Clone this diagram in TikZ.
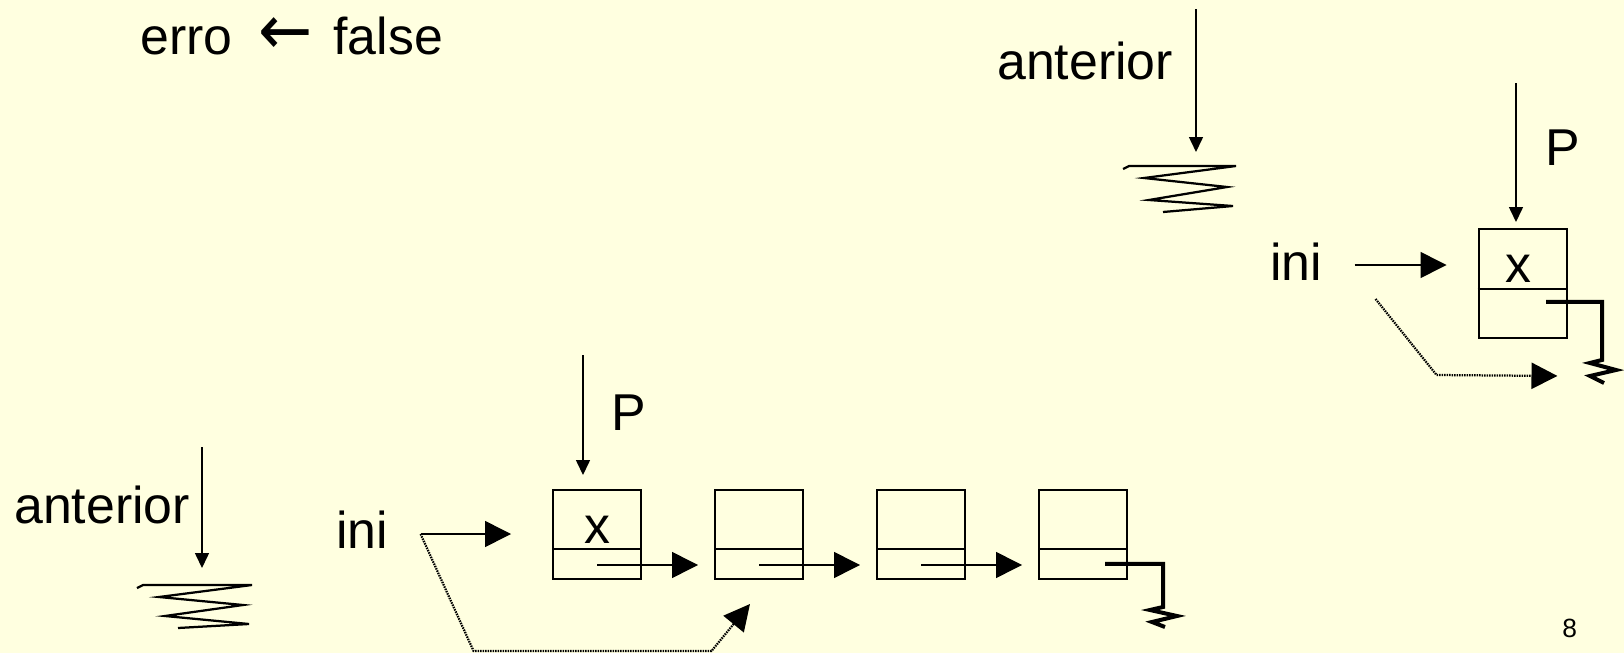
\documentclass[tikz,border=0pt]{standalone}
\usepackage{fontspec}
\setmainfont{Liberation Sans}
\newfontfamily\simbolos{DejaVu Sans}
\usepackage{tikz}
\usetikzlibrary{positioning, arrows.meta, calc}
\definecolor{fundo}{RGB}{255,255,224}

\begin{document}
\begin{tikzpicture}[x=0.02cm, y=-0.02cm,
        texto/.style={inner sep=0pt, anchor=base west, font=\fontsize{29.5}{34}\selectfont},
        celula/.style={draw, line width=0.04cm, minimum width=1.76cm, minimum height=1.78cm, inner sep=0pt},
        seta/.style={-{Triangle[length=0.52cm, width=0.52cm]}, line width=0.03cm},
        ponteiro/.style={-{Triangle[length=0.3cm, width=0.28cm]}, line width=0.03cm},
        pontilhado/.style={seta, line width=0.045cm, dash pattern=on 0.03cm off 0.02cm},
        nulo/.style={line width=0.08cm},
        terra/.style={line width=0.045cm}
    ]
        \useasboundingbox (0,0) rectangle (1624,653);
        \fill[fundo] (0,0) rectangle (1624,653);

        % Nós
        \node (erro) at (140,54) [texto] {erro\hspace{0.5em}\scalebox{1.25}[1.35]{\simbolos ←}\hspace{0.4em}false};
        \node (anteriorA) at (997,79) [texto] {anterior};
        \node (pA) at (1545,165) [texto] {P};
        \node (iniA) at (1270,280) [texto] {ini};
        \node (caixaA) at (1522.5,283.5) [celula, minimum height=2.18cm] {};
        \node (xA) at (1518,282) [texto, anchor=base] {x};

        \node (anteriorB) at (14,523) [texto] {anterior};
        \node (pB) at (611,430) [texto] {P};
        \node (iniB) at (336,548) [texto] {ini};
        \foreach \i in {1,...,4}
            \node (c\i) at ({597+162*(\i-1)},534.5) [celula] {};
        \node (xB) at (597,543) [texto, anchor=base] {x};
        \node (pagina) at (1562,637) [texto, font=\fontsize{15}{18}\selectfont] {8};

        \coordinate (topoAntA) at (1196,9);
        \coordinate (topoPA) at (1516,83);
        \coordinate (terraA) at (1129,166);
        \coordinate (topoAntB) at (202,447);
        \coordinate (topoPB) at (583,355);
        \coordinate (terraB) at (143,585);

        % divisórias
        \draw[line width=0.04cm] ($(caixaA.south west)!0.45!(caixaA.north west)$) -- ($(caixaA.south east)!0.45!(caixaA.north east)$);
        \foreach \i in {1,...,4}
            \draw[line width=0.04cm] ($(c\i.south west)!0.337!(c\i.north west)$) -- ($(c\i.south east)!0.337!(c\i.north east)$);

        % aterramentos
        \draw[terra] ($(terraA)+(-6,3)$) -- (terraA) -- ++(107,0) -- ++(-92,12) -- ++(83,9) -- ++(-78,13) -- ++(84,6) -- ++(-70,6);
        \draw[terra] ($(terraB)+(-6,3)$) -- (terraB) -- ++(109,0) -- ++(-93,12) -- ++(84,8) -- ++(-78,11) -- ++(84,8) -- ++(-71,4);

        % Conexões
        \draw[ponteiro, shorten >=0.28cm] (topoAntA) -- (terraA -| topoAntA);
        \draw[ponteiro, shorten >=0.12cm] (topoPA) -- (caixaA.north -| topoPA);
        \draw[seta, shorten <=0.64cm, shorten >=0.62cm] ($(iniA.base east)+(0,-15)$) -- ($(caixaA.west |- iniA.base)+(0,-15)$);
        \draw[pontilhado] ($(iniA.base east)+(53,19)$) -- ++(61,76) -- ($(caixaA.south east)+(-10,37)$);
        \draw[nulo] ($(caixaA.south)+(23.5,-37)$) -- ++(56,0) -- ++(0,58) -- ++(-12,3) -- ++(26,7) -- ++(-26,6) -- ++(14,7);

        \draw[ponteiro, shorten >=0.34cm] (topoAntB) -- (terraB -| topoAntB);
        \draw[ponteiro, shorten >=0.28cm] (topoPB) -- (c1.north -| topoPB);
        \draw[seta, shorten <=0.64cm, shorten >=0.82cm] ($(iniB.base east)+(0,-14)$) -- ($(c1.west |- iniB.base)+(0,-14)$);
        \draw[pontilhado] ($(iniB.base east)+(32,-14)$) -- ++(53,117) -- ++(238,0) -- ($(c2.south)+(-9,24)$);
        \foreach \i/\j in {1/2, 2/3, 3/4}
            \draw[seta, shorten >=0.32cm] ($(c\i.south)+(0,-15)$) -- ($(c\j.south west)+(0,-15)$);
        \draw[nulo] ($(c4.south)+(22,-16)$) -- ++(58,0) -- ++(0,43) -- ++(-13,3) -- ++(27,6) -- ++(-25,6) -- ++(13,5);
    \end{tikzpicture}
\end{document}
